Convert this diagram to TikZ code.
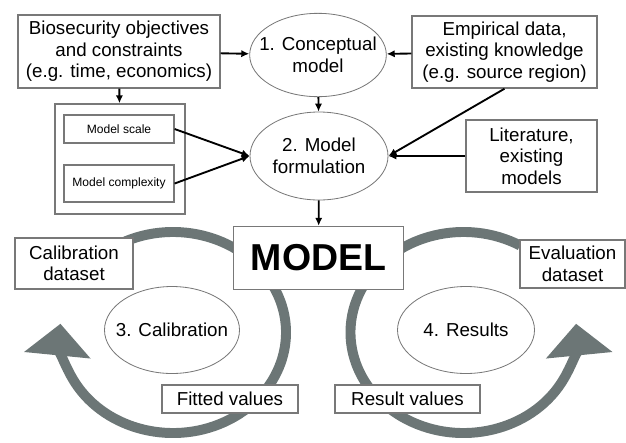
\documentclass[tikz,border=0pt]{standalone}
\usepackage{fontspec}
\setmainfont{Liberation Sans}
\usepackage{tikz}
\usetikzlibrary{calc,arrows.meta,shapes}
\definecolor{loopgray}{RGB}{108,118,118}
\definecolor{boxgray}{RGB}{120,120,120}

\begin{document}
\begin{tikzpicture}[x=0.03cm,y=-0.03cm,
  box/.style={draw=boxgray, line width=1.2pt, fill=white, align=center, inner sep=1pt, font=\fontsize{16}{18.3}\selectfont},
  oval/.style={ellipse, draw=boxgray, line width=0.7pt, fill=white, align=center, inner sep=-3cm, font=\fontsize{16}{18.3}\selectfont},
  small/.style={draw=boxgray, line width=1pt, fill=white, minimum width=3.3cm, font=\fontsize{10.3}{12}\selectfont},
  flow/.style={-{Latex[length=2.4mm,width=2.2mm]}, line width=1.6pt},
  loop/.style={loopgray, line width=8.5pt, -{Triangle[length=0.95cm,width=1.95cm]}}]
\pgfmathsetmacro{\rx}{3.39}
\pgfmathsetmacro{\ry}{3.015}
\useasboundingbox (0,0) rectangle (626,442);

% the two loops go under everything
\coordinate (calloop) at (173,332.5);
\coordinate (resloop) at (463.5,332.5);
\draw[loop] ([shift={(120:\rx cm and \ry cm)}]calloop) arc[start angle=120, end angle=-185, x radius=\rx cm, y radius=\ry cm];
\draw[loop] ([shift={(60:\rx cm and \ry cm)}]resloop) arc[start angle=60, end angle=365, x radius=\rx cm, y radius=\ry cm];

\node[box, minimum width=6.06cm, minimum height=2.19cm] (bio) at (119,51.5) {Biosecurity objectives\\and constraints\\(e.g. time, economics)};
\node[oval, minimum width=4.1cm, minimum height=2.5cm] (concept) at (318,55) {1. Conceptual\\model};
\node[box, minimum width=5.55cm, minimum height=2.16cm] (emp) at (504.5,52) {Empirical data,\\existing knowledge\\(e.g. source region)};
\node[oval, minimum width=4.14cm, minimum height=2.64cm] (form) at (319,156) {2. Model\\formulation};
\node[box, minimum width=3.93cm, minimum height=2.16cm] (lit) at (531.5,156) {Literature,\\existing\\models};

\node[box, minimum width=3.9cm, minimum height=3.3cm] (grp) at (120,159) {};
\node[small, minimum height=0.84cm] (scale) at (119,129) {Model scale};
\node[small, minimum height=1.11cm] (cplx) at (119,183.5) {Model complexity};

\node[box, minimum width=5.1cm, minimum height=1.89cm, font=\fontsize{32}{36}\selectfont\bfseries] (model) at (318.5,258) {MODEL};
\node[box, minimum width=3.54cm, minimum height=1.53cm] (caldata) at (74,263.5) {Calibration\\dataset};
\node[box, minimum width=3.15cm, minimum height=1.44cm] (evaldata) at (572.5,264) {Evaluation\\dataset};
\node[oval, minimum width=4.05cm, minimum height=2.61cm] (calib) at (172,330) {3. Calibration};
\node[oval, minimum width=4.11cm, minimum height=2.61cm] (results) at (466,330) {4. Results};
\node[box, minimum width=4.08cm, minimum height=0.84cm] (fitted) at (230,399) {Fitted values};
\node[box, minimum width=4.35cm, minimum height=0.84cm] (resv) at (407.5,399) {Result values};

\draw[flow] (bio) -- (concept);
\draw[flow] (emp) -- (concept);
\draw[flow] (bio) -- (grp);
\draw[flow] (concept) -- (form);
\draw[flow] (emp.south) -- (form.east);
\draw[flow] (lit) -- (form);
\draw[flow] (scale.east) -- (form.west);
\draw[flow] (cplx.east) -- (form.west);
\draw[flow] (form) -- (model);
%\draw[red] (calloop) circle (2pt) (resloop) circle (2pt);
\end{tikzpicture}
\end{document}
